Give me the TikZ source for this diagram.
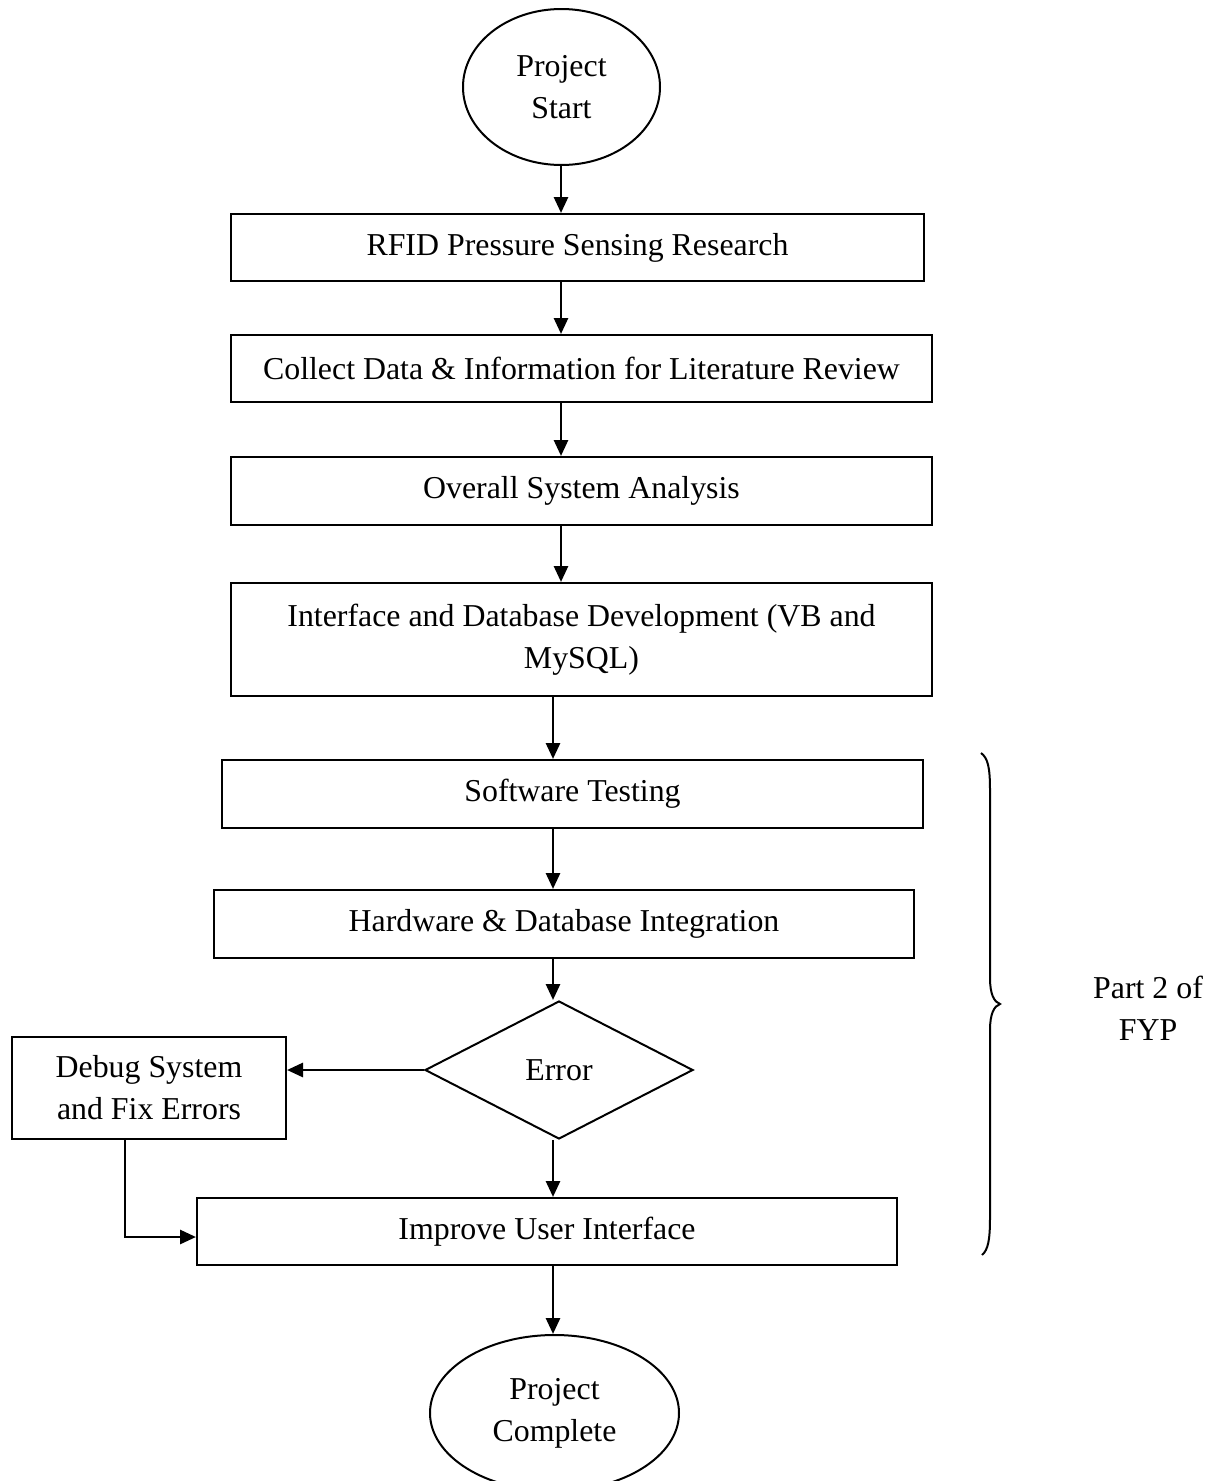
\documentclass[tikz,border=0pt]{standalone}
\usepackage{fontspec}
\setmainfont{Liberation Serif}
\usetikzlibrary{arrows.meta,shapes.geometric}
\begin{document}
\begin{tikzpicture}[x=1pt,y=-1pt,
  every node/.style={font=\fontsize{31.85}{42}\selectfont},
  box/.style={draw, line width=2pt, rectangle, inner sep=0pt, align=center},
  oval/.style={draw, line width=2pt, ellipse, inner sep=0pt, align=center},
  decision/.style={draw, line width=2pt, diamond, inner sep=0pt, align=center},
  arr/.style={line width=2.8pt, -{Triangle[length=16pt,width=14pt]}}]
\useasboundingbox (0,0) rectangle (1225,1481);
\clip (0,0) rectangle (1225,1481);
\fill[white] (0,0) rectangle (1225,1481);
\coordinate (xa) at (561,0);
\coordinate (xb) at (553,0);
\coordinate (xd) at (125,0);
\coordinate (yd) at (0,1237);

\node[oval, minimum width=197pt, minimum height=156pt] (start) at (561.5,87) {Project\\Start};
\node[box, minimum width=693pt, minimum height=67pt] (b1) at (577.5,247.5) {RFID Pressure Sensing Research};
\node[box, minimum width=701pt, minimum height=67pt] (b2) at (581.5,368.5) {Collect Data \& Information for Literature Review};
\node[box, minimum width=701pt, minimum height=68pt] (b3) at (581.5,491) {Overall System Analysis};
\node[box, minimum width=701pt, minimum height=113pt] (b4) at (581.5,639.5) {Interface and Database Development (VB and\\MySQL)};
\node[box, minimum width=701pt, minimum height=68pt] (b5) at (572.5,794) {Software Testing};
\node[box, minimum width=700pt, minimum height=68pt] (b6) at (564,924) {Hardware \& Database Integration};
\node[decision, minimum width=268pt, minimum height=138pt] (dia) at (559,1070) {Error};
\node[box, minimum width=274pt, minimum height=102pt] (dbg) at (149,1088) {Debug System\\and Fix Errors};
\node[box, minimum width=700pt, minimum height=67pt] (imp) at (547,1231.5) {Improve User Interface};
\node[oval, minimum width=249pt, minimum height=156pt] (end) at (554.5,1413) {Project\\Complete};
\node[align=center, inner sep=0pt] (part) at (1148,1008) {Part 2 of\\FYP};

\draw[arr] (start.south -| xa) -- (b1.north -| xa);
\draw[arr] (b1.south -| xa) -- (b2.north -| xa);
\draw[arr] (b2.south -| xa) -- (b3.north -| xa);
\draw[arr] (b3.south -| xa) -- (b4.north -| xa);
\draw[arr] (b4.south -| xb) -- (b5.north -| xb);
\draw[arr] (b5.south -| xb) -- (b6.north -| xb);
\draw[arr] (b6.south -| xb) -- (dia.north -| xb);
\draw[arr] (dia.south -| xb) -- (imp.north -| xb);
\draw[arr] (imp.south -| xb) -- (end.north -| xb);
\draw[arr] (dia.west) -- (dia.west -| dbg.east);
\draw[arr] (dbg.south -| xd) -- (xd |- yd) -- (imp.west |- yd);

\draw[line width=2pt] (981,753) .. controls (988,758) and (990,768) .. (990,790)
  -- (990,978) .. controls (990,994) and (994,1002) .. (1000,1004)
  .. controls (994,1006) and (990,1014) .. (990,1030)
  -- (990,1218) .. controls (990,1240) and (988,1250) .. (982,1255);
\end{tikzpicture}
\end{document}
